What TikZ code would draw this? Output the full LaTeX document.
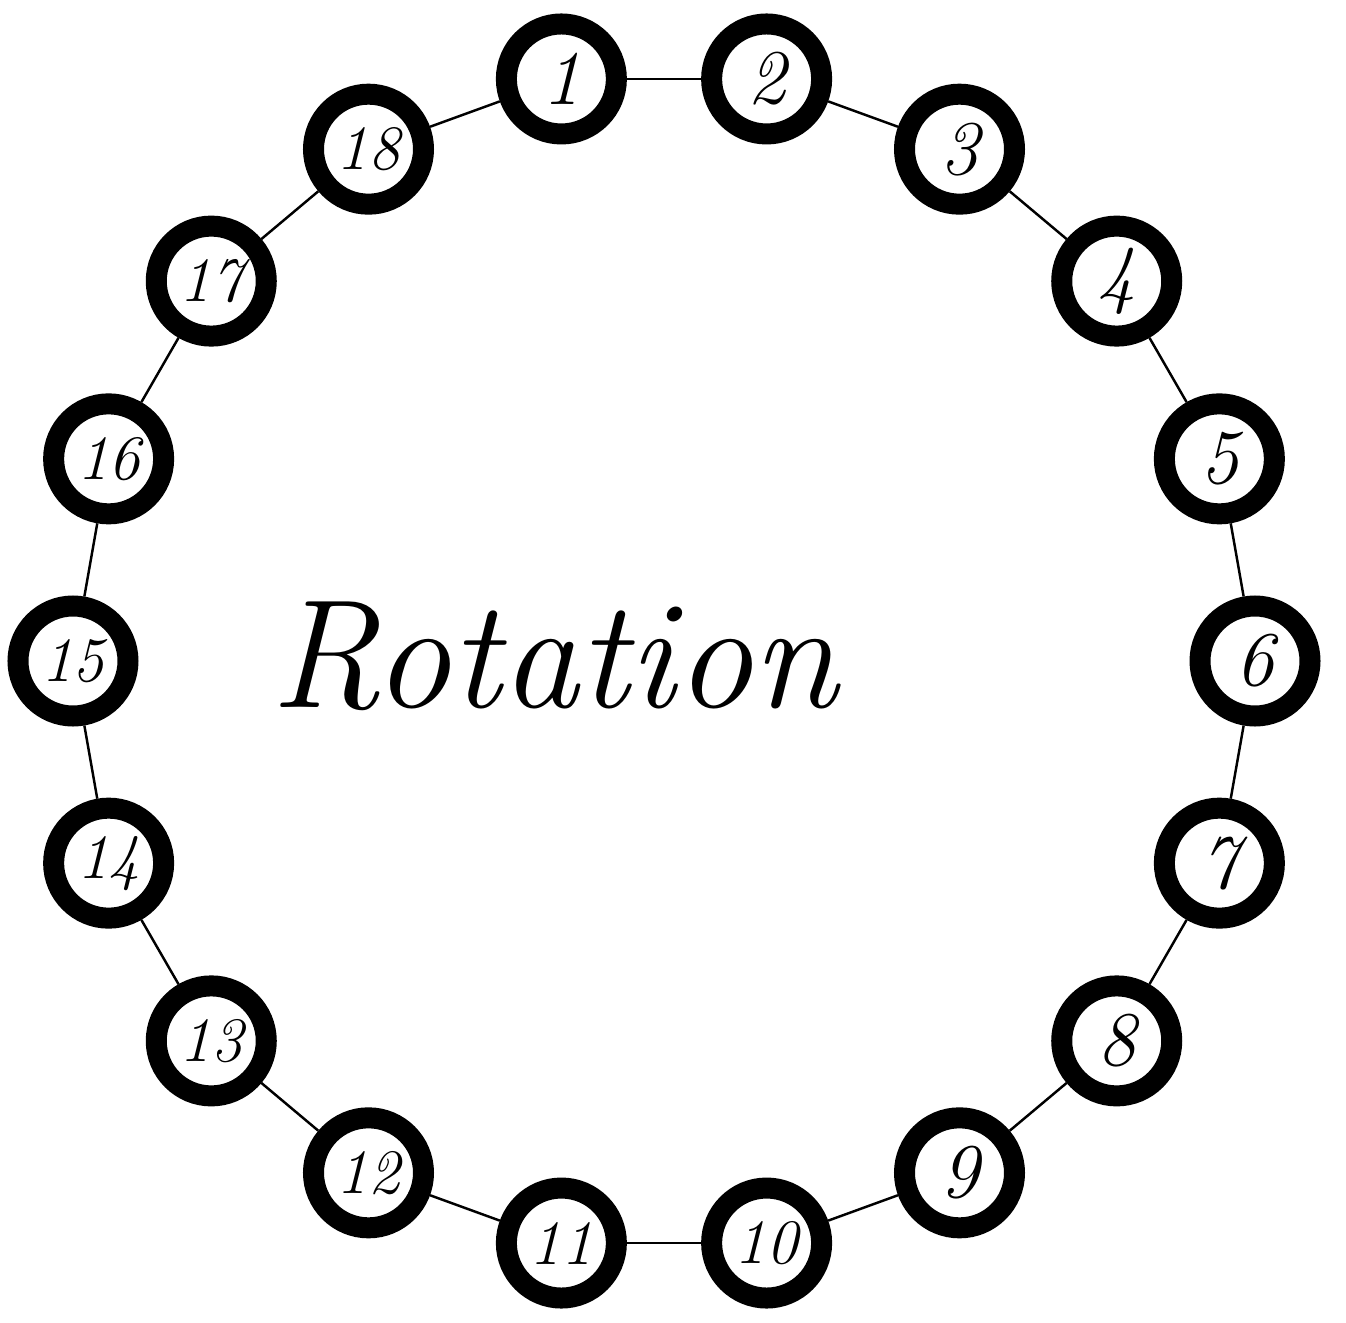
\documentclass[tikz,border=0pt]{standalone}
\begin{document}
\begin{tikzpicture}[
    ringnode/.style={
        circle, draw=black, line width=0.21cm, fill=white,
        minimum size=1.1cm, inner sep=0pt,
        font=\fontsize{22}{22}\selectfont\itshape
    },
    pairnode/.style={
        ringnode, font=\fontsize{18}{18}\selectfont\itshape
    },
    ringline/.style={
        line width=0.7pt, black
    },
    titletext/.style={
        font=\fontsize{44}{44}\selectfont\itshape
    }
]
\useasboundingbox (-6.64,-6.61) rectangle (6.82,6.61);

% Ring of numbered stations
\node[ringnode] (n1)  at (100:5.91) {1};
\node[ringnode] (n2)  at ( 80:5.91) {2};
\node[ringnode] (n3)  at ( 60:5.91) {3};
\node[ringnode] (n4)  at ( 40:5.91) {4};
\node[ringnode] (n5)  at ( 20:5.91) {5};
\node[ringnode] (n6)  at (  0:5.91) {6};
\node[ringnode] (n7)  at (-20:5.91) {7};
\node[ringnode] (n8)  at (-40:5.91) {8};
\node[ringnode] (n9)  at (-60:5.91) {9};
\node[pairnode] (n10) at (-80:5.91) {10};
\node[pairnode] (n11) at (-100:5.91) {11};
\node[pairnode] (n12) at (-120:5.91) {12};
\node[pairnode] (n13) at (-140:5.91) {13};
\node[pairnode] (n14) at (-160:5.91) {14};
\node[pairnode] (n15) at (180:5.91) {15};
\node[pairnode] (n16) at (160:5.91) {16};
\node[pairnode] (n17) at (140:5.91) {17};
\node[pairnode] (n18) at (120:5.91) {18};

% Links between neighbours
\draw[ringline] (n1)  -- (n2);
\draw[ringline] (n2)  -- (n3);
\draw[ringline] (n3)  -- (n4);
\draw[ringline] (n4)  -- (n5);
\draw[ringline] (n5)  -- (n6);
\draw[ringline] (n6)  -- (n7);
\draw[ringline] (n7)  -- (n8);
\draw[ringline] (n8)  -- (n9);
\draw[ringline] (n9)  -- (n10);
\draw[ringline] (n10) -- (n11);
\draw[ringline] (n11) -- (n12);
\draw[ringline] (n12) -- (n13);
\draw[ringline] (n13) -- (n14);
\draw[ringline] (n14) -- (n15);
\draw[ringline] (n15) -- (n16);
\draw[ringline] (n16) -- (n17);
\draw[ringline] (n17) -- (n18);
\draw[ringline] (n18) -- (n1);

% Title
\node[titletext] (title) at (-1.1,0.05) {Rotation};

\end{tikzpicture}
\end{document}
